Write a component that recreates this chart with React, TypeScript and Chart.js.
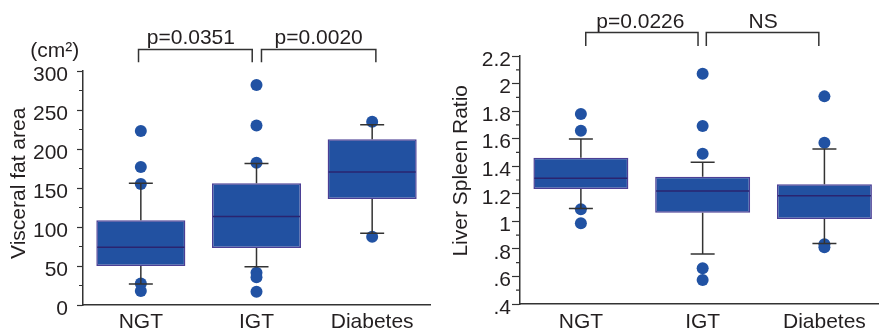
import React, { useEffect, useRef } from 'react';
import { Chart, registerables } from 'chart.js';

Chart.register(...registerables);

// ---------------- Data ----------------
const categories = ['NGT', 'IGT', 'Diabetes'];

// Visceral fat area (cm²)
const vfaQ1 = [50, 73, 136];
const vfaMedian = [74, 113.5, 170.5];
const vfaQ3 = [108.5, 156, 212.5];
const vfaWhiskerLow = [27, 49, 92];
const vfaWhiskerHigh = [156, 181.5, 231];
const vfaOutliersNGT = [223, 177, 155, 27.5, 18];
const vfaOutliersIGT = [282, 230, 182.5, 41.5, 35.5, 17];
const vfaOutliersDiabetes = [235, 87.5];
const vfaTicks = [0, 50, 100, 150, 200, 250, 300];
const vfaTickLabels = ['0', '50', '100', '150', '200', '250', '300'];
const vfaMinorTicks = [25, 75, 125, 175, 225, 275];
const vfaTitle = 'Visceral fat area';
const vfaUnit = '(cm²)';
const vfaComparisons = [
  { from: 0, to: 1, label: 'p=0.0351' },
  { from: 1, to: 2, label: 'p=0.0020' },
];

// Liver spleen ratio
const lsrQ1 = [1.235, 1.063, 1.017];
const lsrMedian = [1.312, 1.22, 1.186];
const lsrQ3 = [1.462, 1.324, 1.269];
const lsrWhiskerLow = [1.094, 0.763, 0.84];
const lsrWhiskerHigh = [1.598, 1.428, 1.525];
const lsrOutliersNGT = [1.779, 1.658, 1.087, 0.986];
const lsrOutliersIGT = [2.072, 1.692, 1.491, 0.659, 0.574];
const lsrOutliersDiabetes = [1.907, 1.571, 0.833, 0.811];
const lsrTicks = [0.4, 0.6, 0.8, 1.0, 1.2, 1.4, 1.6, 1.8, 2.0, 2.2];
const lsrTickLabels = ['.4', '.6', '.8', '1', '1.2', '1.4', '1.6', '1.8', '2', '2.2'];
const lsrMinorTicks = [0.5, 0.7, 0.9, 1.1, 1.3, 1.5, 1.7, 1.9, 2.1];
const lsrTitle = 'Liver Spleen Ratio';
const lsrComparisons = [
  { from: 0, to: 1, label: 'p=0.0226' },
  { from: 1, to: 2, label: 'NS' },
];

// ---------------- Styles ----------------
const FONT = "'Liberation Sans', Arial, Helvetica, sans-serif";
const FONT_SIZE = 21;
const TEXT = '#231f20';
const LINE = '#333333';
const BOX_FILL = '#2251a1';
const BOX_EDGE = '#4b3f95';
const MEDIAN = '#2a2470';
const DOT = '#2152a3';
const H = 333;

type Comparison = { from: number; to: number; label: string };
type PanelSpec = {
  canvasLeft: number;
  canvasWidth: number;
  area: { left: number; top: number; right: number; bottom: number };
  xMax: number;
  barPct: number;
  yMin: number;
  yMax: number;
  ticks: number[];
  tickLabels: string[];
  minorTicks: number[];
  majorTickLen: number;
  minorTickLen: number;
  tickPad: number;
  xLabelPad: number;
  title: string;
  titleX: number;
  titleY: number;
  unit?: { text: string; x: number; y: number };
  q1: number[];
  median: number[];
  q3: number[];
  lo: number[];
  hi: number[];
  outliers: number[][];
  comparisons: Comparison[];
  bracketLineY: number;
  bracketLegY: number;
  bracketTextGap: number;
  bracketInsets: [number, number][];
  bracketTextDx: number[];
};

const leftSpec: PanelSpec = {
  canvasLeft: 0,
  canvasWidth: 440,
  area: { left: 83, top: 71, right: 430, bottom: 305 },
  xMax: 2.5,
  barPct: 0.77,
  yMin: 0,
  yMax: 300,
  ticks: vfaTicks,
  tickLabels: vfaTickLabels,
  minorTicks: vfaMinorTicks,
  majorTickLen: 6,
  minorTickLen: 4,
  tickPad: 9,
  xLabelPad: 5,
  title: vfaTitle,
  titleX: 25.3,
  titleY: 183.3,
  unit: { text: vfaUnit, x: 54.7, y: 57 },
  q1: vfaQ1,
  median: vfaMedian,
  q3: vfaQ3,
  lo: vfaWhiskerLow,
  hi: vfaWhiskerHigh,
  outliers: [vfaOutliersNGT, vfaOutliersIGT, vfaOutliersDiabetes],
  comparisons: vfaComparisons,
  bracketLineY: 49.5,
  bracketLegY: 62.3,
  bracketTextGap: 6,
  bracketInsets: [[-0.02, -0.037], [0.043, 0.032]],
  bracketTextDx: [-4.5, 0],
};

const rightSpec: PanelSpec = {
  canvasLeft: 440,
  canvasWidth: 444,
  area: { left: 80, top: 56, right: 443, bottom: 304 },
  xMax: 2.44,
  barPct: 0.78,
  yMin: 0.4,
  yMax: 2.2,
  ticks: lsrTicks,
  tickLabels: lsrTickLabels,
  minorTicks: lsrMinorTicks,
  majorTickLen: 8,
  minorTickLen: 4,
  tickPad: 1,
  xLabelPad: 6,
  title: lsrTitle,
  titleX: 26.7,
  titleY: 170.8,
  q1: lsrQ1,
  median: lsrMedian,
  q3: lsrQ3,
  lo: lsrWhiskerLow,
  hi: lsrWhiskerHigh,
  outliers: [lsrOutliersNGT, lsrOutliersIGT, lsrOutliersDiabetes],
  comparisons: lsrComparisons,
  bracketLineY: 32.5,
  bracketLegY: 46,
  bracketTextGap: 4.5,
  bracketInsets: [[0.04, -0.038], [0.03, -0.046]],
  bracketTextDx: [-1.5, 0.5],
};

function makeConfig(spec: PanelSpec): any {
  const boxData = categories.map((_, i) => ({ x: i, y: [spec.q1[i], spec.q3[i]] }));
  const dotData: { x: number; y: number }[] = [];
  spec.outliers.forEach((arr, i) => arr.forEach((v) => dotData.push({ x: i, y: v })));

  const extras = {
    id: 'boxExtras',
    afterDatasetsDraw(chart: any) {
      const { ctx } = chart;
      const xs = chart.scales.x;
      const ys = chart.scales.y;
      const meta = chart.getDatasetMeta(0);
      ctx.save();
      ctx.lineWidth = 1.5;
      ctx.strokeStyle = LINE;
      categories.forEach((_, i) => {
        const x = xs.getPixelForValue(i);
        const yq3 = ys.getPixelForValue(spec.q3[i]);
        const yq1 = ys.getPixelForValue(spec.q1[i]);
        const yhi = ys.getPixelForValue(spec.hi[i]);
        const ylo = ys.getPixelForValue(spec.lo[i]);
        ctx.beginPath();
        ctx.moveTo(x, yq3);
        ctx.lineTo(x, yhi);
        ctx.moveTo(x - 12, yhi);
        ctx.lineTo(x + 12, yhi);
        ctx.moveTo(x, yq1);
        ctx.lineTo(x, ylo);
        ctx.moveTo(x - 12, ylo);
        ctx.lineTo(x + 12, ylo);
        ctx.stroke();
        const bar = meta.data[i];
        const half = bar.width / 2;
        const ym = ys.getPixelForValue(spec.median[i]);
        ctx.beginPath();
        ctx.strokeStyle = MEDIAN;
        ctx.moveTo(bar.x - half + 1, ym);
        ctx.lineTo(bar.x + half - 1, ym);
        ctx.stroke();
        ctx.strokeStyle = LINE;
      });
      ctx.restore();
    },
    afterDraw(chart: any) {
      const { ctx, chartArea } = chart;
      const xs = chart.scales.x;
      const ys = chart.scales.y;
      ctx.save();
      ctx.strokeStyle = LINE;
      ctx.lineWidth = 1.2;
      ctx.beginPath();
      spec.minorTicks.forEach((v) => {
        const y = ys.getPixelForValue(v);
        ctx.moveTo(chartArea.left - spec.minorTickLen, y);
        ctx.lineTo(chartArea.left, y);
      });
      ctx.stroke();
      ctx.fillStyle = TEXT;
      ctx.font = `${FONT_SIZE}px ${FONT}`;
      ctx.save();
      ctx.translate(spec.titleX, spec.titleY);
      ctx.rotate(-Math.PI / 2);
      ctx.textAlign = 'center';
      ctx.textBaseline = 'alphabetic';
      ctx.fillText(spec.title, 0, 0);
      ctx.restore();
      if (spec.unit) {
        ctx.textAlign = 'center';
        ctx.textBaseline = 'alphabetic';
        ctx.fillText(spec.unit.text, spec.unit.x, spec.unit.y);
      }
      ctx.lineWidth = 1.5;
      ctx.strokeStyle = LINE;
      spec.comparisons.forEach((c, k) => {
        const [a, b] = spec.bracketInsets[k];
        const xa = xs.getPixelForValue(c.from + a);
        const xb = xs.getPixelForValue(c.to + b);
        ctx.beginPath();
        ctx.moveTo(xa, spec.bracketLegY);
        ctx.lineTo(xa, spec.bracketLineY);
        ctx.lineTo(xb, spec.bracketLineY);
        ctx.lineTo(xb, spec.bracketLegY);
        ctx.stroke();
        ctx.textAlign = 'center';
        ctx.textBaseline = 'alphabetic';
        ctx.fillText(c.label, (xa + xb) / 2 + spec.bracketTextDx[k], spec.bracketLineY - spec.bracketTextGap);
      });
      ctx.restore();
    },
  };

  return {
    type: 'bar',
    data: {
      datasets: [
        {
          type: 'bar',
          data: boxData,
          backgroundColor: BOX_FILL,
          borderColor: BOX_EDGE,
          borderWidth: 1.5,
          borderSkipped: false,
          categoryPercentage: 1,
          barPercentage: spec.barPct,
          order: 1,
        },
        {
          type: 'scatter',
          data: dotData,
          backgroundColor: DOT,
          borderWidth: 0,
          pointRadius: 6,
          pointHoverRadius: 6,
          order: 2,
        },
      ],
    },
    options: {
      responsive: false,
      animation: false,
      devicePixelRatio: 1,
      events: [],
      layout: {
        padding: { top: spec.area.top, left: 0, right: spec.canvasWidth - spec.area.right, bottom: 0 },
      },
      plugins: { legend: { display: false }, tooltip: { enabled: false } },
      scales: {
        x: {
          type: 'linear',
          offset: false,
          min: -0.5,
          max: spec.xMax,
          afterBuildTicks: (s: any) => {
            s.ticks = categories.map((_, i) => ({ value: i }));
          },
          afterFit: (s: any) => {
            s.height = H - spec.area.bottom;
          },
          grid: { display: true, offset: false, drawOnChartArea: false, drawTicks: false },
          border: { display: true, color: LINE, width: 1.5 },
          ticks: {
            autoSkip: false,
            maxRotation: 0,
            padding: spec.xLabelPad,
            color: TEXT,
            font: { family: FONT, size: FONT_SIZE },
            callback: (v: any) => categories[v] ?? '',
          },
        },
        y: {
          type: 'linear',
          min: spec.yMin,
          max: spec.yMax,
          afterBuildTicks: (s: any) => {
            s.ticks = spec.ticks.map((v) => ({ value: v }));
          },
          afterFit: (s: any) => {
            s.width = spec.area.left;
          },
          grid: {
            drawOnChartArea: false,
            drawTicks: true,
            tickLength: spec.majorTickLen,
            tickColor: LINE,
            tickWidth: 1.2,
          },
          border: { display: true, color: LINE, width: 1.5 },
          ticks: {
            autoSkip: false,
            padding: spec.tickPad,
            labelOffset: 4,
            color: TEXT,
            font: { family: FONT, size: FONT_SIZE },
            callback: (_v: any, i: number) => spec.tickLabels[i],
          },
        },
      },
    },
    plugins: [extras],
  };
}

function BoxPanel({ spec }: { spec: PanelSpec }) {
  const ref = useRef<HTMLCanvasElement>(null);
  useEffect(() => {
    const chart = new Chart(ref.current as HTMLCanvasElement, makeConfig(spec));
    return () => chart.destroy();
  }, [spec]);
  return (
    <canvas
      ref={ref}
      width={spec.canvasWidth}
      height={H}
      style={{ position: 'absolute', left: spec.canvasLeft, top: 0, width: spec.canvasWidth, height: H }}
    />
  );
}

export default function App() {
  return (
    <div
      style={{
        position: 'absolute',
        left: 0,
        top: 0,
        width: 884,
        height: H,
        background: '#ffffff',
        overflow: 'hidden',
      }}
    >
      <BoxPanel spec={leftSpec} />
      <BoxPanel spec={rightSpec} />
    </div>
  );
}
